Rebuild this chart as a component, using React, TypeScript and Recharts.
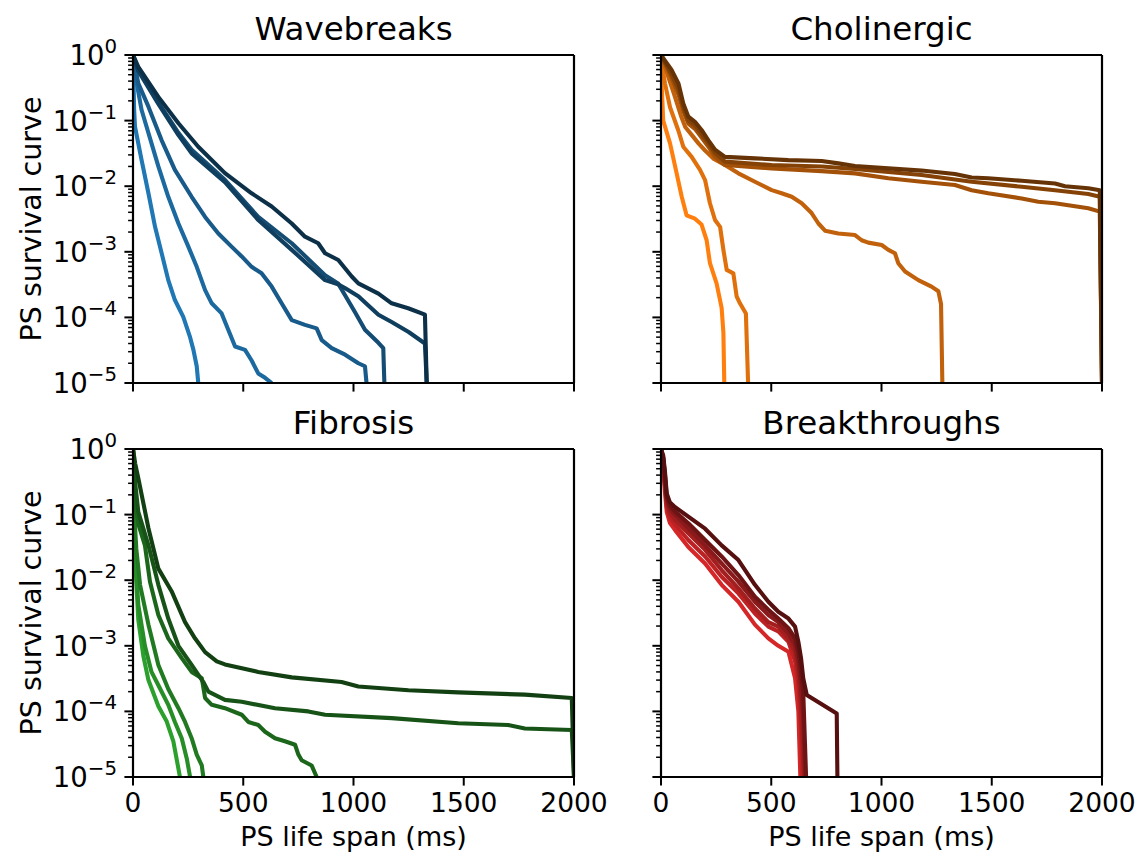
import React from 'react';
import { LineChart, Line, XAxis, YAxis, ReferenceLine } from 'recharts';

const FONT = '"DejaVu Sans", Verdana, sans-serif';

// ---------- axes ----------
const xTicks = [0, 500, 1000, 1500, 2000];
const yMajorTicks = [1e-5, 1e-4, 1e-3, 1e-2, 1e-1, 1];
const yMajorExponents = ['−5', '−4', '−3', '−2', '−1', '0'];
const yMinorSteps = [2, 3, 4, 5, 6, 7, 8, 9];

const panelTitles = ['Wavebreaks', 'Cholinergic', 'Fibrosis', 'Breakthroughs'];
const yAxisLabel = 'PS survival curve';
const xAxisLabel = 'PS life span (ms)';

// ---------- data: [life span (ms), survival] ----------
const wavebreaks1 = [[0, 1], [5, 0.15], [9, 0.081], [39, 0.025], [70, 7.8e-3], [100, 2.4e-3], [130, 9.5e-4], [160, 3.7e-4], [190, 1.84e-4], [228, 1.02e-4], [258, 5.1e-5], [274, 3.2e-5], [289, 1.8e-5], [296, 1e-5]];
const wavebreaks2 = [[0, 1], [5, 0.5], [17, 0.37], [39, 0.145], [84, 0.045], [115, 0.02], [160, 6.9e-3], [206, 2.7e-3], [251, 1.2e-3], [289, 5.9e-4], [327, 2.6e-4], [357, 1.64e-4], [402, 1.15e-4], [432, 6.5e-5], [463, 3.6e-5], [508, 3.2e-5], [538, 2.2e-5], [568, 1.4e-5], [599, 1.2e-5], [629, 1e-5]];
const wavebreaks3 = [[0, 1], [24, 0.37], [70, 0.163], [130, 0.05], [190, 0.0177], [266, 6.9e-3], [327, 3.4e-3], [387, 1.9e-3], [447, 1.2e-3], [493, 8.5e-4], [538, 5.9e-4], [583, 4.7e-4], [629, 2.95e-4], [674, 1.64e-4], [720, 9.1e-5], [780, 7.7e-5], [833, 6.8e-5], [856, 4.5e-5], [901, 3.4e-5], [962, 2.7e-5], [1022, 2e-5], [1052, 1.8e-5], [1059, 1e-5]];
const wavebreaks4 = [[0, 1], [24, 0.6], [115, 0.19], [206, 0.065], [266, 0.036], [417, 0.0125], [568, 3.4e-3], [720, 1.35e-3], [871, 4.4e-4], [930, 3.3e-4], [961, 2.2e-4], [1007, 1.2e-4], [1052, 6.5e-5], [1113, 4.1e-5], [1135, 3.4e-5], [1140, 1e-5]];
const wavebreaks5 = [[0, 1], [24, 0.57], [115, 0.18], [206, 0.06], [266, 0.0317], [417, 0.0115], [568, 3.05e-3], [720, 1.07e-3], [871, 3.7e-4], [930, 3.2e-4], [961, 2.8e-4], [1022, 2.1e-4], [1113, 1.1e-4], [1173, 8.5e-5], [1250, 6e-5], [1324, 4e-5], [1332, 1e-5]];
const wavebreaks6 = [[0, 1], [24, 0.66], [115, 0.23], [206, 0.091], [296, 0.04], [417, 0.0158], [538, 7.8e-3], [629, 4.9e-3], [720, 2.7e-3], [780, 1.7e-3], [840, 1.35e-3], [871, 9.5e-4], [931, 7.5e-4], [992, 4.2e-4], [1022, 3.3e-4], [1113, 2.3e-4], [1173, 1.64e-4], [1248, 1.38e-4], [1324, 1.1e-4], [1332, 1e-5]];

const cholinergic1 = [[0, 1], [4, 0.3], [10, 0.1], [41, 0.045], [71, 0.0157], [94, 6.9e-3], [116, 3.6e-3], [154, 3.2e-3], [184, 2.6e-3], [207, 1.5e-3], [222, 6.7e-4], [252, 3.3e-4], [275, 1.4e-4], [283, 5.8e-5], [287, 1e-5]];
const cholinergic2 = [[0, 1], [8, 0.6], [18, 0.37], [41, 0.16], [79, 0.07], [101, 0.04], [139, 0.028], [177, 0.0177], [200, 0.0124], [222, 5.5e-3], [245, 3.05e-3], [268, 2.4e-3], [283, 1.07e-3], [298, 5.3e-4], [328, 4.7e-4], [343, 2.1e-4], [358, 1.64e-4], [385, 1.15e-4], [395, 1e-5]];
const cholinergic3 = [[0, 1], [30, 0.5], [60, 0.25], [90, 0.12], [110, 0.08], [140, 0.06], [170, 0.045], [200, 0.035], [240, 0.026], [290, 0.021], [351, 0.0157], [426, 0.0117], [502, 8.7e-3], [547, 7.8e-3], [593, 6.9e-3], [638, 5.5e-3], [683, 3.9e-3], [714, 2.7e-3], [744, 2.1e-3], [804, 1.9e-3], [880, 1.8e-3], [910, 1.5e-3], [940, 1.38e-3], [1001, 1.27e-3], [1031, 1.07e-3], [1061, 9.5e-4], [1076, 6.7e-4], [1107, 5e-4], [1167, 3.7e-4], [1227, 2.95e-4], [1258, 2.5e-4], [1270, 1.6e-4], [1276, 1e-5]];
const cholinergic4 = [[0, 1], [48, 0.45], [79, 0.25], [101, 0.14], [124, 0.09], [154, 0.075], [184, 0.055], [215, 0.04], [245, 0.028], [290, 0.021], [502, 0.0187], [729, 0.017], [880, 0.0157], [1031, 0.0132], [1182, 0.0117], [1333, 0.0104], [1409, 8.7e-3], [1484, 7.8e-3], [1636, 6.5e-3], [1711, 5.8e-3], [1787, 5.5e-3], [1938, 4.6e-3], [1990, 4.1e-3], [2000, 1e-5]];
const cholinergic5 = [[0, 1], [48, 0.5], [79, 0.3], [101, 0.16], [124, 0.1], [154, 0.085], [184, 0.062], [215, 0.045], [245, 0.032], [290, 0.0237], [502, 0.021], [729, 0.02], [880, 0.0183], [1031, 0.0165], [1182, 0.0148], [1409, 0.0117], [1636, 9.8e-3], [1787, 8.7e-3], [1938, 7.6e-3], [1990, 6.9e-3], [2000, 1e-5]];
const cholinergic6 = [[0, 1], [48, 0.59], [79, 0.37], [101, 0.183], [124, 0.115], [154, 0.096], [184, 0.072], [215, 0.05], [245, 0.036], [290, 0.028], [426, 0.0266], [577, 0.025], [729, 0.0242], [804, 0.0223], [880, 0.0203], [1031, 0.0187], [1182, 0.0173], [1333, 0.0153], [1409, 0.0136], [1484, 0.0132], [1636, 0.0121], [1787, 0.011], [1832, 0.01], [1938, 9.3e-3], [1990, 8.7e-3], [2000, 1e-5]];

const fibrosis1 = [[0, 1], [4, 0.1], [10, 0.02], [24, 2.5e-3], [47, 7e-4], [70, 3e-4], [115, 1.2e-4], [153, 7e-5], [183, 3.5e-5], [213, 1e-5]];
const fibrosis2 = [[0, 1], [5, 0.1], [12, 0.02], [24, 4.2e-3], [54, 1.0e-3], [84, 4e-4], [115, 2.5e-4], [160, 1.26e-4], [190, 6.9e-5], [221, 3.9e-5], [244, 1.9e-5], [259, 1e-5]];
const fibrosis3 = [[0, 1], [6, 0.1], [15, 0.03], [32, 8.5e-3], [70, 2.1e-3], [115, 5.1e-4], [160, 2.2e-4], [206, 1.12e-4], [236, 6.9e-5], [266, 3.9e-5], [289, 2.2e-5], [312, 1.5e-5], [319, 1e-5]];
const fibrosis4 = [[0, 1], [10, 0.15], [25, 0.07], [54, 0.034], [77, 9.5e-3], [115, 2.95e-3], [160, 1.3e-3], [221, 6.5e-4], [266, 4e-4], [312, 3.2e-4], [327, 1.6e-4], [357, 1.26e-4], [417, 1.12e-4], [493, 8.9e-5], [523, 6.9e-5], [568, 6.2e-5], [599, 4.9e-5], [644, 3.9e-5], [689, 3.5e-5], [735, 3.1e-5], [750, 2.2e-5], [765, 1.8e-5], [810, 1.5e-5], [833, 1e-5]];
const fibrosis5 = [[0, 1], [10, 0.3], [24, 0.11], [70, 0.034], [115, 8.5e-3], [160, 2.6e-3], [206, 1.0e-3], [266, 5.1e-4], [319, 2.8e-4], [342, 2.0e-4], [417, 1.5e-4], [493, 1.4e-4], [644, 1.12e-4], [795, 1e-4], [871, 8.9e-5], [1173, 7.9e-5], [1475, 6.6e-5], [1701, 6.2e-5], [1777, 5.5e-5], [1990, 5.2e-5], [2000, 1e-5]];
const fibrosis6 = [[0, 1], [10, 0.6], [24, 0.36], [70, 0.062], [115, 0.015], [175, 6.8e-3], [236, 2.3e-3], [281, 1.3e-3], [327, 8e-4], [380, 5.8e-4], [417, 5.2e-4], [568, 4e-4], [720, 3.3e-4], [946, 2.8e-4], [1022, 2.4e-4], [1249, 2.1e-4], [1475, 1.95e-4], [1777, 1.8e-4], [1990, 1.6e-4], [2000, 1e-5]];

const breakthroughs1 = [[0, 1], [10, 0.5], [18, 0.22], [26, 0.11], [40, 0.075], [64, 0.058], [124, 0.032], [200, 0.018], [275, 8.5e-3], [351, 4.7e-3], [426, 2.1e-3], [487, 1.3e-3], [532, 1.0e-3], [578, 8.1e-4], [608, 3.2e-4], [623, 1e-4], [632, 1e-5]];
const breakthroughs2 = [[0, 1], [10, 0.6], [18, 0.28], [26, 0.13], [40, 0.09], [64, 0.07], [124, 0.041], [200, 0.023], [275, 0.0113], [351, 6.3e-3], [426, 3.1e-3], [487, 1.96e-3], [532, 1.66e-3], [578, 1.15e-3], [608, 5.8e-4], [623, 2.5e-4], [635, 5.5e-5], [640, 1e-5]];
const breakthroughs3 = [[0, 1], [10, 0.65], [18, 0.31], [26, 0.15], [40, 0.105], [64, 0.083], [124, 0.052], [200, 0.029], [275, 0.0143], [351, 7.5e-3], [426, 3.7e-3], [487, 2.3e-3], [532, 1.96e-3], [578, 1.3e-3], [608, 8.1e-4], [623, 4e-4], [635, 1.26e-4], [645, 1.7e-5], [648, 1e-5]];
const breakthroughs4 = [[0, 1], [10, 0.7], [18, 0.35], [26, 0.17], [40, 0.122], [64, 0.099], [124, 0.062], [200, 0.034], [275, 0.018], [351, 9.5e-3], [426, 4.7e-3], [487, 2.95e-3], [532, 2.3e-3], [578, 1.55e-3], [608, 1.02e-3], [623, 5.8e-4], [635, 2.5e-4], [645, 8e-5], [653, 1e-5]];
const breakthroughs5 = [[0, 1], [10, 0.75], [18, 0.4], [26, 0.19], [40, 0.138], [64, 0.111], [124, 0.074], [200, 0.041], [275, 0.023], [351, 0.012], [426, 5.6e-3], [487, 3.55e-3], [532, 2.6e-3], [578, 1.86e-3], [608, 1.3e-3], [623, 8.1e-4], [635, 4e-4], [645, 2e-4], [653, 3.2e-5], [658, 1e-5]];
const breakthroughs6 = [[0, 1], [10, 0.8], [18, 0.45], [26, 0.21], [40, 0.155], [64, 0.13], [124, 0.093], [200, 0.061], [275, 0.034], [351, 0.0203], [426, 8.5e-3], [487, 4.7e-3], [532, 3.3e-3], [578, 2.6e-3], [608, 1.96e-3], [623, 1.15e-3], [635, 6.5e-4], [645, 3.2e-4], [661, 1.78e-4], [797, 9.3e-5], [800, 1e-5]];

// ---------- colours (light -> dark) ----------
const blues = ['#1f77b4', '#1b699e', '#185a89', '#144c73', '#103e5e', '#0c3048'];
const oranges = ['#ff7f0e', '#e0700c', '#c2610b', '#a35109', '#854207', '#663306'];
const greens = ['#2ca02c', '#278d27', '#217a21', '#1c661c', '#175317', '#124012'];
const reds = ['#d62728', '#bc2223', '#a31e1e', '#89191a', '#6f1415', '#561010'];

const yTicks = [
  ...yMajorTicks,
  ...yMajorTicks.slice(0, 5).flatMap((d) => yMinorSteps.map((m) => m * d)),
].sort((a, b) => a - b);

const toPts = (arr: number[][]) => arr.map(([x, y]) => ({ x, y }));

const Y_W = 60;
const X_H = 30;
const TICK_FS = 26.5;
const YTICK_FS = 27.5;
const XLABEL_FS = 27;
const YLABEL_FS = 28.5;
const TITLE_FS = 32.5;

const YTick = (props: any) => {
  const { x, y, payload, showLabel } = props;
  const v = payload.value;
  const idx = yMajorTicks.findIndex((t) => Math.abs(t - v) / t < 1e-6);
  const major = idx >= 0;
  const len = major ? 8.6 : 4.9;
  return (
    <g>
      <line x1={x - len} x2={x} y1={y} y2={y} stroke="#000" strokeWidth={major ? 2 : 1.5} />
      {major && showLabel && (
        <text x={x - 16} y={y + 10} textAnchor="end" fontFamily={FONT} fontSize={YTICK_FS} fill="#000">
          <tspan>10</tspan>
          <tspan fontSize={YTICK_FS * 0.72} dy={-12}>{yMajorExponents[idx]}</tspan>
        </text>
      )}
    </g>
  );
};

const XTick = (props: any) => {
  const { x, y, payload, showLabel } = props;
  return (
    <g>
      <line x1={x} x2={x} y1={y} y2={y + 8.6} stroke="#000" strokeWidth={2} />
      {showLabel && (
        <text x={x} y={y + 35} textAnchor="middle" fontFamily={FONT} fontSize={TICK_FS} fill="#000">
          {payload.value}
        </text>
      )}
    </g>
  );
};

type PanelProps = {
  series: number[][][];
  colors: string[];
  left: number; top: number; width: number; height: number;
  plotLeft: number; plotTop: number; plotRight: number; plotBottom: number;
  xLabels: boolean; yLabels: boolean;
};

function Panel(p: PanelProps) {
  const margin = {
    top: p.plotTop - p.top,
    left: p.plotLeft - p.left - Y_W,
    right: p.left + p.width - p.plotRight,
    bottom: p.top + p.height - p.plotBottom - X_H,
  };
  return (
    <div style={{ position: 'absolute', left: p.left, top: p.top }}>
      <LineChart width={p.width} height={p.height} margin={margin}>
        <XAxis
          dataKey="x" type="number" domain={[0, 2000]} ticks={xTicks} interval={0}
          allowDataOverflow height={X_H} tickSize={0} tickMargin={0} tickLine={false}
          axisLine={{ stroke: '#000', strokeWidth: 2.2 }}
          tick={(tp: any) => <XTick {...tp} showLabel={p.xLabels} />}
        />
        <YAxis
          type="number" scale="log" domain={[1e-5, 1]} ticks={yTicks} interval={0}
          allowDataOverflow width={Y_W} tickSize={0} tickMargin={0} tickLine={false}
          axisLine={{ stroke: '#000', strokeWidth: 2.2 }}
          tick={(tp: any) => <YTick {...tp} showLabel={p.yLabels} />}
        />
        {p.series.map((s, i) => (
          <Line
            key={i} data={toPts(s)} dataKey="y" type="linear" stroke={p.colors[i]}
            strokeWidth={4.1} strokeLinejoin="round" dot={false} activeDot={false}
            isAnimationActive={false}
          />
        ))}
        <ReferenceLine y={1} stroke="#000" strokeWidth={2.2} />
        <ReferenceLine x={2000} stroke="#000" strokeWidth={2.2} />
      </LineChart>
    </div>
  );
}

const L = { plotLeft: 133, plotRight: 574 };
const R = { plotLeft: 661, plotRight: 1102 };
const T = { plotTop: 55, plotBottom: 383 };
const B = { plotTop: 449, plotBottom: 777 };

export default function App() {
  const cxL = (L.plotLeft + L.plotRight) / 2;
  const cxR = (R.plotLeft + R.plotRight) / 2;
  return (
    <div style={{ position: 'absolute', left: 0, top: 0, width: 1138, height: 859, background: '#fff', overflow: 'hidden' }}>
      <Panel series={[wavebreaks1, wavebreaks2, wavebreaks3, wavebreaks4, wavebreaks5, wavebreaks6]} colors={blues}
        left={0} top={0} width={630} height={420} {...L} {...T} xLabels={false} yLabels={true} />
      <Panel series={[cholinergic1, cholinergic2, cholinergic3, cholinergic4, cholinergic5, cholinergic6]} colors={oranges}
        left={580} top={0} width={558} height={420} {...R} {...T} xLabels={false} yLabels={false} />
      <Panel series={[fibrosis1, fibrosis2, fibrosis3, fibrosis4, fibrosis5, fibrosis6]} colors={greens}
        left={0} top={420} width={630} height={439} {...L} {...B} xLabels={true} yLabels={true} />
      <Panel series={[breakthroughs1, breakthroughs2, breakthroughs3, breakthroughs4, breakthroughs5, breakthroughs6]} colors={reds}
        left={580} top={420} width={558} height={439} {...R} {...B} xLabels={true} yLabels={false} />
      <svg width={1138} height={859} style={{ position: 'absolute', left: 0, top: 0, pointerEvents: 'none' }}>
        <g fontFamily={FONT} fill="#000">
          <text x={cxL} y={40} textAnchor="middle" fontSize={TITLE_FS}>{panelTitles[0]}</text>
          <text x={cxR} y={40} textAnchor="middle" fontSize={TITLE_FS}>{panelTitles[1]}</text>
          <text x={cxL} y={434} textAnchor="middle" fontSize={TITLE_FS}>{panelTitles[2]}</text>
          <text x={cxR} y={434} textAnchor="middle" fontSize={TITLE_FS}>{panelTitles[3]}</text>
          <text transform={`translate(41, ${(T.plotTop + T.plotBottom) / 2}) rotate(-90)`} textAnchor="middle" fontSize={YLABEL_FS}>{yAxisLabel}</text>
          <text transform={`translate(41, ${(B.plotTop + B.plotBottom) / 2}) rotate(-90)`} textAnchor="middle" fontSize={YLABEL_FS}>{yAxisLabel}</text>
          <text x={cxL} y={846} textAnchor="middle" fontSize={XLABEL_FS}>{xAxisLabel}</text>
          <text x={cxR} y={846} textAnchor="middle" fontSize={XLABEL_FS}>{xAxisLabel}</text>
        </g>
      </svg>
    </div>
  );
}
